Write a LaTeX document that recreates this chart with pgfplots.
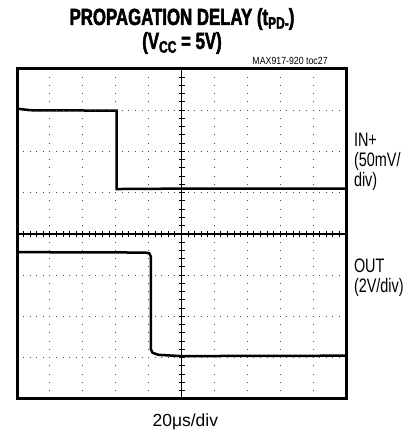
\documentclass[border=0pt]{standalone}
\usepackage{fontspec}
\setmainfont{Liberation Sans}
\newfontfamily\narrowfont{Liberation Sans}[FakeStretch=0.74]
\newfontfamily\smallfont{Liberation Sans}[FakeStretch=0.85]
\newfontfamily\titlefont{Liberation Sans Bold}[FakeStretch=0.72,FakeBold=2]
\usepackage{pgfplots}
\pgfplotsset{compat=1.18}
\begin{document}
\begin{tikzpicture}
\path (-10.2pt,-19.2pt) rectangle (240pt,239.4pt);
% main frame, graticule and traces
\begin{axis}[at={(0,0)}, anchor=south west, scale only axis,
  width=197.4pt, height=198pt,
  xmin=0, xmax=10, ymin=0, ymax=8,
  xtick={0,...,10}, ytick={0,...,8},
  xticklabels={}, yticklabels={},
  major tick length=0pt,
  grid=major,
  x grid style={black!70, line width=0.6pt, dash pattern=on 0.6pt off 4.35pt, dash phase=0.3pt},
  y grid style={black!70, line width=0.6pt, dash pattern=on 0.6pt off 3.348pt, dash phase=0.3pt},
  axis line style={line width=1.8pt},
  axis on top]
% IN+ trace
\addplot[black, line width=1.5pt] coordinates {
 (0,7.04) (0.4,7.0) (3.03,6.99) (3.03,5.09) (5,5.10) (10,5.10)};
% OUT trace
\addplot[black, line width=1.5pt] coordinates {
 (0,3.56) (3.9,3.55) (4.02,3.53) (4.07,3.45) (4.07,1.20) (4.12,1.12) (4.3,1.07) (5,1.04) (10,1.05)};
\end{axis}
% centre graticule lines with minor ticks
\begin{axis}[at={(0,0)}, anchor=south west, scale only axis,
  width=197.4pt, height=198pt,
  xmin=-5, xmax=5, ymin=-4, ymax=4,
  axis lines=middle,
  axis line style={-, line width=0.9pt},
  xtick={-5,...,5}, ytick={-4,...,4},
  minor x tick num=4, minor y tick num=4,
  tick align=center,
  major tick length=3.6pt, minor tick length=3.6pt,
  xticklabels={}, yticklabels={},
  tick style={black, line width=0.6pt}]
\end{axis}
% texts
\node[anchor=base] at (99pt,224.4pt) {\titlefont\fontsize{14}{14}\selectfont PROPAGATION DELAY (t\raisebox{-0.3ex}{\fontsize{10}{10}\selectfont PD-})};
\node[anchor=base] at (99pt,210pt) {\titlefont\fontsize{14}{14}\selectfont (V\raisebox{-0.3ex}{\fontsize{10}{10}\selectfont CC} = 5V)};
\node[anchor=base east, inner sep=0pt] at (186.6pt,200.4pt) {\smallfont\fontsize{6.2}{6.2}\selectfont MAX917-920 toc27};
\node[anchor=base west, inner sep=0pt] at (202pt,151.2pt) {\narrowfont\fontsize{11.7}{11.7}\selectfont IN+};
\node[anchor=base west, inner sep=0pt] at (202pt,139.2pt) {\narrowfont\fontsize{11.7}{11.7}\selectfont (50mV/};
\node[anchor=base west, inner sep=0pt] at (202pt,127.2pt) {\narrowfont\fontsize{11.7}{11.7}\selectfont div)};
\node[anchor=base west, inner sep=0pt] at (202pt,75.6pt) {\narrowfont\fontsize{11.7}{11.7}\selectfont OUT};
\node[anchor=base west, inner sep=0pt] at (202pt,63.6pt) {\narrowfont\fontsize{11.7}{11.7}\selectfont (2V/div)};
\node[anchor=base, inner sep=0pt] at (101pt,-16.2pt) {\fontsize{10.5}{10.5}\selectfont 20μs/div};
\end{tikzpicture}
\end{document}
